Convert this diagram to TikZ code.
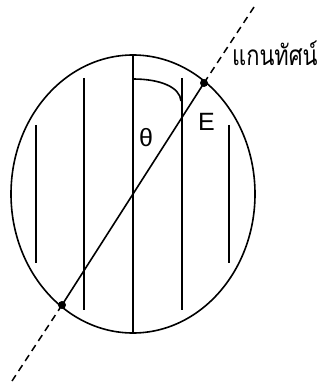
\documentclass[tikz,border=0pt]{standalone}
\usepackage{fontspec}
\setmainfont{Liberation Sans}
\newfontfamily\thaifont[Script=Thai]{Loma}
\begin{document}
\begin{tikzpicture}[x=1pt,y=-1pt,
  outline/.style={line width=1.6pt},
  stroke/.style={line width=1.6pt},
  dotmark/.style={circle,fill=black,inner sep=0pt,minimum size=8pt},
  axisdash/.style={line width=1.5pt,dash pattern=on 7pt off 5pt},
  lbl/.style={inner sep=0pt,font=\fontsize{25}{27}\selectfont}]
\useasboundingbox (0,0) rectangle (322,382);
\fill[white] (0,0) rectangle (322,382);
\coordinate (c) at (133,194);
\draw[outline] (c) ellipse [x radius=122, y radius=139];
% vertical lines
\coordinate (m1) at (133,55); \coordinate (m2) at (133,333);
\draw[stroke] (m1) -- (m2);
\coordinate (a1) at (84,78); \coordinate (a2) at (84,310);
\draw[stroke] (a1) -- (a2);
\coordinate (b1) at (182,78); \coordinate (b2) at (182,310);
\draw[stroke] (b1) -- (b2);
\coordinate (l1) at (36,125); \coordinate (l2) at (36,263);
\draw[stroke] (l1) -- (l2);
\coordinate (r1) at (229,125); \coordinate (r2) at (229,263);
\draw[stroke] (r1) -- (r2);
% axis
\node[dotmark] (pe) at (204,83) {};
\node[dotmark] (pw) at (62,305) {};
\coordinate (te) at (256,4);
\coordinate (tw) at (12,381);
\draw[stroke] (pw.center) -- (pe.center);
\draw[axisdash] (pe.center) -- (te);
\draw[axisdash] (pw.center) -- (tw);
% angle arc
\coordinate (arcS) at (133,79);
\coordinate (arcE) at (181,101);
\draw[stroke] (arcS) .. controls (160,79) and (180,87) .. (arcE);
% labels
\node[lbl,anchor=south west] (th) at (139,147) {θ};
\node[lbl,anchor=south west] (E) at (198,131) {E};
\node[inner sep=0pt,anchor=base west,font=\thaifont\fontsize{28}{30}\selectfont] (axis) at (232,66) {\scalebox{0.78}[1]{แกนทัศน์}};
\end{tikzpicture}
\end{document}
